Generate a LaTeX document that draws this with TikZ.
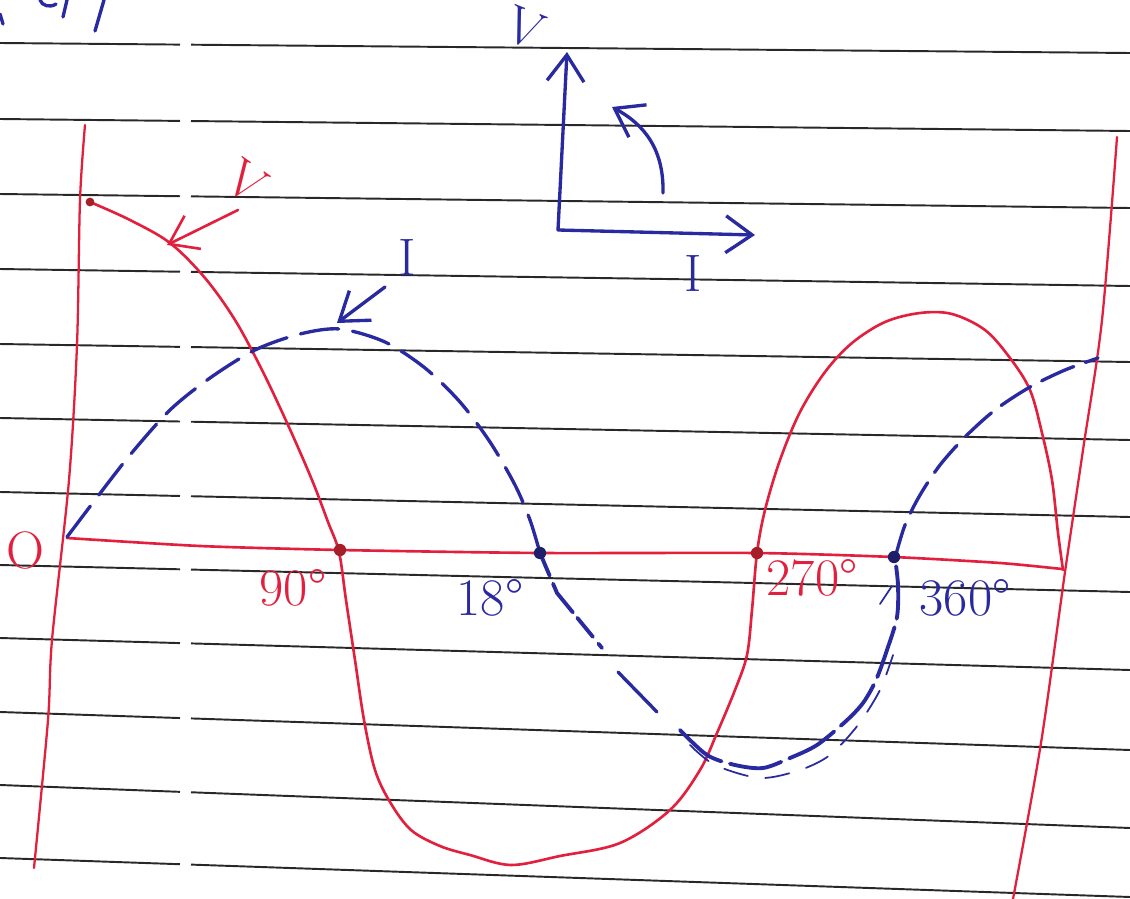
\documentclass[tikz,border=0pt]{standalone}
\usetikzlibrary{arrows.meta}
\definecolor{penred}{RGB}{226,32,62}
\definecolor{dotred}{RGB}{165,30,40}
\definecolor{penblue}{RGB}{42,42,160}
\definecolor{dotblue}{RGB}{30,30,105}
\definecolor{ruleblack}{RGB}{40,40,40}
\newcommand{\handfont}{\fontsize{30}{32}\selectfont}
\tikzset{
  rule/.style={draw=ruleblack, line width=1.1pt},
  redpen/.style={draw=penred, line width=1.5pt, line cap=round, line join=round},
  bluepen/.style={draw=penblue, line width=1.9pt, line cap=round, line join=round},
  barb/.style={-{Straight Barb[length=15pt,width=21pt]}},
  dotnode/.style={circle, inner sep=0pt, minimum size=7pt},
  lab/.style={font=\handfont, inner sep=0pt},
}
\begin{document}
\begin{tikzpicture}[x=0.02cm,y=-0.02cm]
\useasboundingbox (0,0) rectangle (1130,899);
\fill[white] (0,0) rectangle (1130,899);

% ruled paper lines
\foreach \a/\b in {43/53,119/131,194/208,269/286,344/362,418/440,492/517,565/592,638/670,712/750,785/828,858/897}{
  \pgfmathsetmacro\ya{\a+(\b-\a)*180/1130}
  \pgfmathsetmacro\yb{\a+(\b-\a)*191/1130}
  \draw[rule] (0,\a) -- (180,\ya);
  \draw[rule] (191,\yb) -- (1130,\b);
}

% cut-off writing at the top left
\draw[bluepen] (40,0) .. controls (42,6) and (50,8) .. (56,4);
\draw[bluepen] (67,0) -- (63,17);
\draw[bluepen] (104,0) -- (95,31);
\draw[bluepen] (0,14) -- (3,24);

% red margin lines
\draw[redpen, line width=1.3pt] plot[smooth] coordinates {(85,125) (80,200) (77,345) (69,480) (52,640) (48,720) (34,868)};
\draw[redpen, line width=1.3pt] plot[smooth] coordinates {(1117,137) (1102,320) (1083,450) (1065,572) (1041,743) (1013,899)};

% horizontal axis
\coordinate (O) at (67,538);
\coordinate (axend) at (1062,569);
\draw[redpen] plot[smooth, tension=0.4] coordinates {(67,538) (200,546) (340,550) (540,553) (757,553) (893,557) (1000,563) (1062,569)};

% voltage curve V
\draw[redpen] plot[smooth, tension=0.55] coordinates {(90,202) (130,220) (170,243) (205,278) (235,320) (262,370) (288,425) (312,480) (328,522) (339,552) (346,600) (355,660) (364,720) (375,770) (390,802) (411,830) (440,846) (470,855) (511,865) (560,856) (620,843) (670,810) (700,770) (717,733) (735,690) (747,655) (752,610) (757,553) (765,510) (780,460) (800,412) (825,372) (852,343) (885,322) (920,313) (952,314) (985,330) (1010,358) (1030,390) (1042,433) (1052,480) (1058,533) (1063,570)};

% current curve I (dashed)
\draw[bluepen, dash pattern=on 22pt off 8pt] plot[smooth] coordinates {(67,537) (95,500) (130,455) (170,410) (210,378) (255,350) (300,334) (340,329) (385,342) (425,368) (460,402) (490,442) (515,485) (530,520) (540,553)};
\draw[bluepen, line width=2.2pt, dash pattern=on 14pt off 5pt on 20pt off 4pt] (540,553) -- (557,593) -- (602,648);
\draw[bluepen] (618,672) -- (657,712);
\draw[bluepen, line width=2.2pt, dash pattern=on 30pt off 5pt] plot[smooth] coordinates {(680,730) (707,755) (735,765) (763,768) (790,758) (817,745) (845,722) (863,703) (876,680) (887,650) (897,617) (898,585) (895,558)};
\draw[bluepen, line width=1.0pt, dash pattern=on 14pt off 10pt] plot[smooth] coordinates {(690,745) (715,765) (760,778) (800,770) (830,755) (858,725) (880,690) (893,655)};
\draw[bluepen, dash pattern=on 20pt off 7pt] plot[smooth] coordinates {(895,558) (905,525) (920,495) (940,465) (965,437) (995,410) (1030,387) (1065,370) (1098,358)};
\draw[bluepen, line width=1.0pt] (880,604) -- (892,586);

% points on the axis
\node[dotnode, fill=dotred] (d90) at (340,550) {};
\node[dotnode, fill=dotblue] (d180) at (540,553) {};
\node[dotnode, fill=dotred] (d270) at (757,553) {};
\node[dotnode, fill=dotblue] (d360) at (894,557) {};
\node[dotnode, fill=dotred, minimum size=5pt] (vstart) at (90,202) {};

% axis labels
\node[lab, text=penred] (lO) at (25,550) {O};
\node[lab, text=penred] (l90) at (293,588) {90\textdegree};
\node[lab, text=penblue] (l180) at (490,598) {18\textdegree};
\node[lab, text=penred] (l270) at (812,578) {270\textdegree};
\node[lab, text=penblue] (l360) at (965,598) {360\textdegree};

% curve labels with arrows
\node[lab, text=penred, rotate=-35] (lV) at (247,182) {V};
\coordinate (vtail) at (238,210);
\coordinate (vtip) at (167,245);
\draw[redpen, barb] (vtail) -- (vtip);
\node[lab, text=penblue] (lI) at (407,257) {I};
\coordinate (itail) at (385,287);
\coordinate (itip) at (337,323);
\draw[bluepen, barb] (itail) -- (itip);

% phasor diagram
\coordinate (po) at (558,230);
\coordinate (pv) at (567,52);
\coordinate (pi) at (755,235);
\draw[bluepen, barb] (po) -- (pv);
\draw[bluepen, barb] (po) -- (pi);
\node[lab, text=penblue, rotate=-22] (pvl) at (525,28) {V};
\node[lab, text=penblue] (pil) at (693,273) {I};
\coordinate (arcs) at (663,193);
\coordinate (arce) at (612,107);
\draw[bluepen, barb] (arcs) .. controls (664,150) and (645,125) .. (arce);
\end{tikzpicture}
\end{document}
